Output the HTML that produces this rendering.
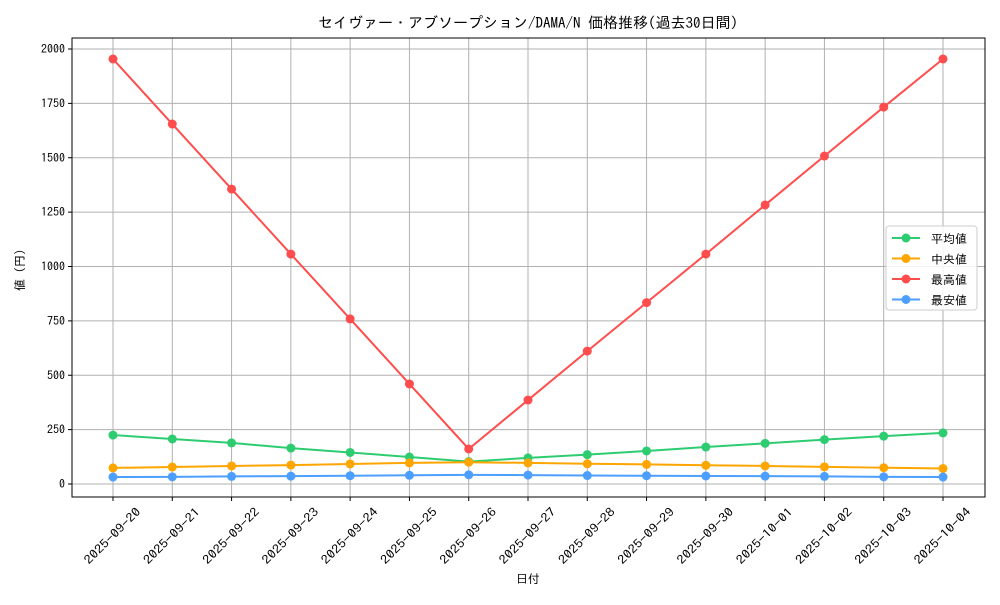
<!DOCTYPE html>
<html><head><meta charset="utf-8"><style>
body{margin:0;background:#fff}
text{font-family:"IPAGothic","Noto Sans CJK JP",sans-serif;fill:#000}
</style></head><body>
<svg id="c" width="1000" height="600"></svg>
<script>
const dates=["2025-09-20","2025-09-21","2025-09-22","2025-09-23","2025-09-24","2025-09-25","2025-09-26","2025-09-27","2025-09-28","2025-09-29","2025-09-30","2025-10-01","2025-10-02","2025-10-03","2025-10-04"];
const avgVals=[225,207,189,165,145,124,103,120,135,152,170,187,204,220,235];
const medVals=[74,78,83,87,92,97,100,97,93,90,86,83,79,75,71];
const maxVals=[1954,1655,1356,1057,759,460,161,386,611,834,1057,1283,1508,1733,1954];
const minVals=[32,33,35,36,38,40,42,41,39,38,37,36,35,33,32];
const yTicks=[0,250,500,750,1000,1250,1500,1750,2000];
const seriesNames=["平均値","中央値","最高値","最安値"];
const NS="http://www.w3.org/2000/svg";
const svg=document.getElementById('c');
const L=72,R=985,T=38,B=497;
const X=i=>113+i*(943-113)/(dates.length-1);
const Y=v=>484-v*(484-49)/2000;
function mk(t,a,p){const e=document.createElementNS(NS,t);for(const k in a)e.setAttribute(k,a[k]);(p||svg).appendChild(e);return e;}
dates.forEach((d,i)=>{const g=mk('line',{x1:X(i),x2:X(i),y1:T,y2:B,stroke:'#b0b0b0','stroke-width':1});


mk('line',{x1:X(i),x2:X(i),y1:B,y2:B+4,stroke:'#000'});
const cx=X(i)-0.5,cy=B+39;
const t=mk('text',{x:cx,y:cy+4,'font-size':12,'text-anchor':'middle',textLength:74,lengthAdjust:'spacingAndGlyphs',transform:`rotate(-45 ${cx} ${cy})`});t.textContent=d;

});
yTicks.forEach(v=>{const g=mk('line',{x1:L,x2:R,y1:Y(v),y2:Y(v),stroke:'#b0b0b0','stroke-width':1});


mk('line',{x1:L-4,x2:L,y1:Y(v),y2:Y(v),stroke:'#000'});
const t=mk('text',{x:L-7,y:Y(v)+4,'font-size':12,'text-anchor':'end'});t.textContent=v;

});
const fr=mk('rect',{x:L,y:T,width:R-L,height:B-T,fill:'none',stroke:'#000','stroke-width':1});


const series=[[avgVals,'#2ecc71'],[medVals,'#ffa500'],[maxVals,'#ff4d4d'],[minVals,'#4d9fff']];
series.forEach(([vals,col],si)=>{const g=mk('g',{});


mk('polyline',{points:vals.map((v,i)=>X(i)+','+Y(v)).join(' '),fill:'none',stroke:col,'stroke-width':2},g);
vals.forEach((v,i)=>{const c=mk('circle',{cx:X(i),cy:Y(v),r:4.5,fill:col},g);

});});
const lg=mk('g',{});


mk('rect',{x:886,y:226,width:91,height:84,rx:3,fill:'#fff','fill-opacity':0.85,stroke:'#ccc'},lg);
seriesNames.forEach((n,i)=>{const y=238+i*20.5;const e=mk('g',{},lg);


mk('line',{x1:892,x2:920,y1:y,y2:y,stroke:series[i][1],'stroke-width':2},e);
mk('circle',{cx:906,cy:y,r:4.5,fill:series[i][1]},e);
const t=mk('text',{x:931,y:y+5,'font-size':12},e);t.textContent=(i==1?' ':'')+n;});
const title=mk('text',{x:528,y:28,'font-size':15,'text-anchor':'middle'});title.textContent='セイヴァー・アブソープション/DAMA/N 価格推移(過去30日間)';


const xl=mk('text',{x:528,y:583,'font-size':12,'text-anchor':'middle'});xl.textContent='日付';


const yl=mk('text',{x:24,y:270,'font-size':12,'text-anchor':'middle',transform:'rotate(-90 24 270)'});yl.textContent='値 (円)';


</script>
</body></html>
